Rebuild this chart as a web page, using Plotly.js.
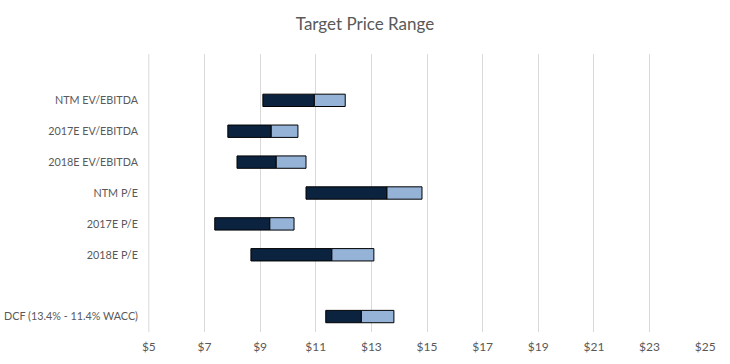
<!DOCTYPE html>
<html>
<head>
<meta charset="utf-8">
<script src="https://cdn.plot.ly/plotly-3.0.1.min.js"></script>
<style>html,body{margin:0;padding:0;background:#fff;}#chart{width:730px;height:364px;}</style>
</head>
<body>
<div id="chart"></div>
<script>
// Category order top to bottom (blank entries are spacer rows)
const categories = [" ", "NTM EV/EBITDA", "2017E EV/EBITDA", "2018E EV/EBITDA", "NTM P/E", "2017E P/E", "2018E P/E", "  ", "DCF (13.4% - 11.4% WACC)"];
const rowNames = ["NTM EV/EBITDA", "2017E EV/EBITDA", "2018E EV/EBITDA", "NTM P/E", "2017E P/E", "2018E P/E", "DCF (13.4% - 11.4% WACC)"];
const lowValues  = [9.10, 7.84, 8.17, 10.65, 7.37, 8.67, 11.36];
const midValues  = [10.95, 9.40, 9.58, 13.56, 9.35, 11.58, 12.64];
const highValues = [12.06, 10.36, 10.65, 14.82, 10.22, 13.09, 13.81];
const tickValues = [5, 7, 9, 11, 13, 15, 17, 19, 21, 23, 25];
const tickLabels = ["$5", "$7", "$9", "$11", "$13", "$15", "$17", "$19", "$21", "$23", "$25"];

const darkLen = lowValues.map((v, i) => midValues[i] - v);
const lightLen = midValues.map((v, i) => highValues[i] - v);

const traces = [
  {type: "bar", orientation: "h", y: rowNames, x: darkLen, base: lowValues,
   marker: {color: "#0c233f", line: {color: "#000000", width: 1}}, width: 0.4, hoverinfo: "skip"},
  {type: "bar", orientation: "h", y: rowNames, x: lightLen, base: midValues,
   marker: {color: "#95b3d7", line: {color: "#000000", width: 1}}, width: 0.4, hoverinfo: "skip"}
];

const layout = {
  width: 730, height: 364,
  margin: {l: 148, r: 24, t: 54, b: 32},
  paper_bgcolor: "#ffffff", plot_bgcolor: "#ffffff",
  showlegend: false,
  barmode: "overlay",
  font: {family: "Lato, 'Open Sans', sans-serif", color: "#595959", size: 11},
  title: {text: "Target Price Range", x: 0.5, xanchor: "center", y: 0.935, yanchor: "middle",
          font: {family: "Lato, 'Open Sans', sans-serif", size: 17, color: "#595959"}},
  xaxis: {range: [4.97, 25.03], tickvals: tickValues, ticktext: tickLabels, showgrid: true,
          gridcolor: "#d9d9d9", gridwidth: 1, zeroline: false, showline: false, ticks: "",
          ticklabelstandoff: 6,
          tickfont: {size: 12, color: "#595959"}, fixedrange: true},
  yaxis: {type: "category", categoryorder: "array", categoryarray: categories,
          range: [categories.length - 0.5, -0.5], showgrid: false, zeroline: false,
          showline: false, ticks: "", ticklabelstandoff: 9,
          tickfont: {size: 10.8, color: "#595959"}, fixedrange: true},
  shapes: [{type: "line", layer: "below", xref: "x", yref: "paper",
            x0: tickValues[0], x1: tickValues[0], y0: 0, y1: 1,
            line: {color: "#d9d9d9", width: 1}}]
};

Plotly.newPlot("chart", traces, layout, {displayModeBar: false, staticPlot: true});
</script>
</body>
</html>
